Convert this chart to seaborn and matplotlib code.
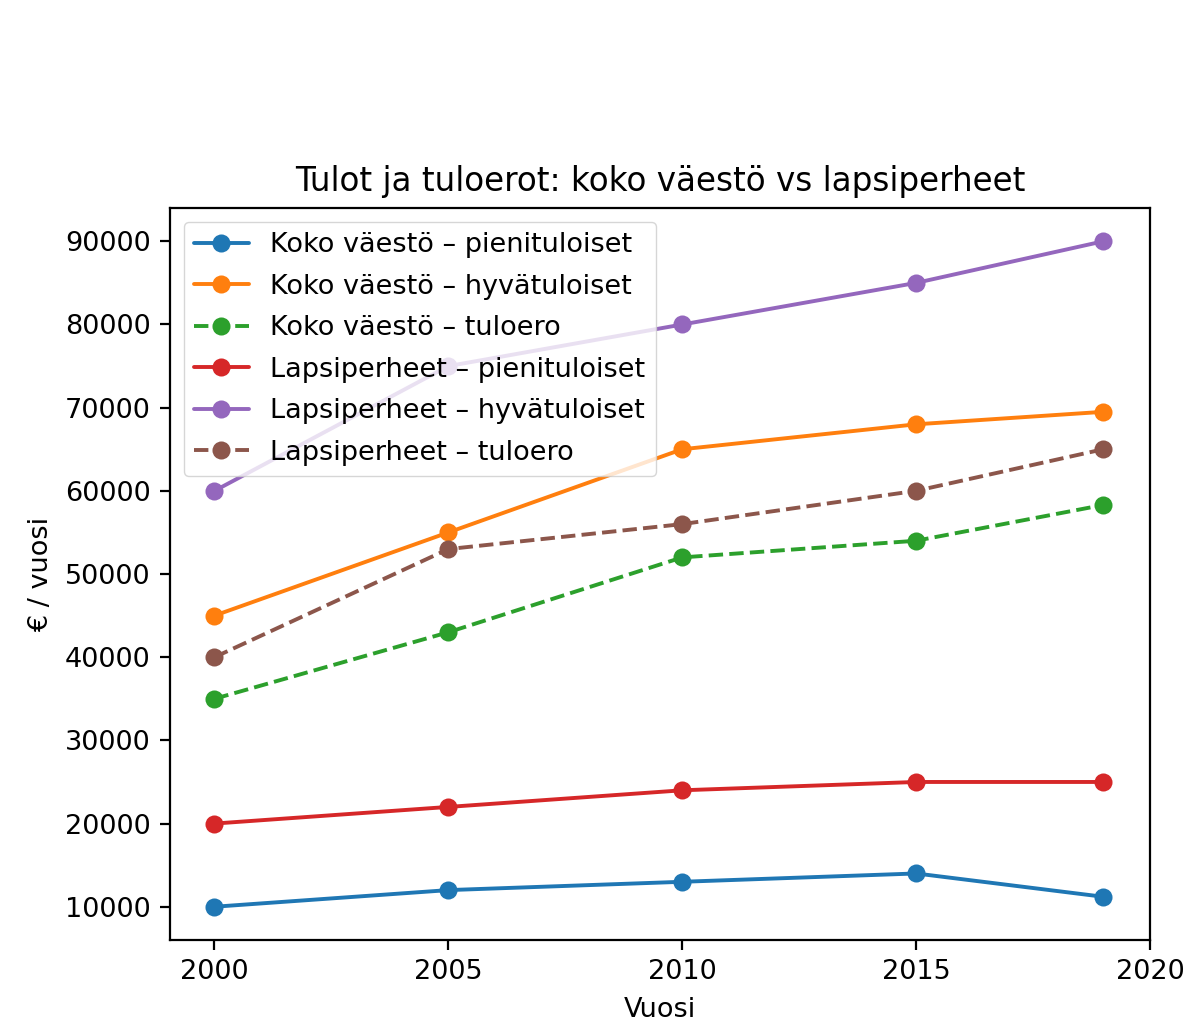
import matplotlib
matplotlib.use("Agg")
import matplotlib.pyplot as plt
import seaborn as sns
import pandas as pd

# Data
years = [2000, 2005, 2010, 2015, 2019]
koko_pieni = [10000, 12000, 13000, 14000, 11200]
koko_hyva = [45000, 55000, 65000, 68000, 69500]
koko_ero = [35000, 43000, 52000, 54000, 58300]
lapsi_pieni = [20000, 22000, 24000, 25000, 25000]
lapsi_hyva = [60000, 75000, 80000, 85000, 90000]
lapsi_ero = [40000, 53000, 56000, 60000, 65000]

labels = [
    "Koko väestö – pienituloiset",
    "Koko väestö – hyvätuloiset",
    "Koko väestö – tuloero",
    "Lapsiperheet – pienituloiset",
    "Lapsiperheet – hyvätuloiset",
    "Lapsiperheet – tuloero",
]
series = [koko_pieni, koko_hyva, koko_ero, lapsi_pieni, lapsi_hyva, lapsi_ero]
dashed = [False, False, True, False, False, True]


def setup_plot_style():
    """Plain matplotlib look, scaled up"""
    sns.set_style("ticks")
    plt.rcParams.update({
        "font.family": ["DejaVu Sans"],
        "font.size": 19.5,
        "axes.titlesize": 23.5,
        "axes.labelsize": 19.5,
        "xtick.labelsize": 19.5,
        "ytick.labelsize": 19.5,
        "legend.fontsize": 19.5,
        "axes.linewidth": 1.6,
        "xtick.major.width": 1.6,
        "ytick.major.width": 1.6,
        "xtick.major.size": 7,
        "ytick.major.size": 7,
        "xtick.major.pad": 7,
        "ytick.major.pad": 7,
        "axes.labelpad": 8,
        "axes.edgecolor": "black",
        "text.color": "black",
        "axes.labelcolor": "black",
        "xtick.color": "black",
        "ytick.color": "black",
    })


def create_plot():
    setup_plot_style()
    fig = plt.figure(figsize=(12, 10.34), dpi=100)
    ax = fig.add_axes([0.1417, 0.0909, 0.8166, 0.7079])

    palette = sns.color_palette("tab10", 6)
    for i, (lab, vals) in enumerate(zip(labels, series)):
        df = pd.DataFrame({"Vuosi": years, "arvo": vals})
        sns.lineplot(data=df, x="Vuosi", y="arvo", ax=ax, label=lab,
                     color=palette[i], marker="o", markersize=13,
                     markeredgecolor=palette[i], markeredgewidth=0,
                     linewidth=2.8, linestyle="--" if dashed[i] else "-")

    ax.set_title("Tulot ja tuloerot: koko väestö vs lapsiperheet", pad=12)
    ax.set_xlabel("Vuosi", fontsize=19.5)
    ax.set_ylabel("€ / vuosi", fontsize=19.5)
    ax.set_xticks([2000, 2005, 2010, 2015, 2020])
    ax.tick_params(labelsize=19.5)
    ax.legend(loc="upper left", framealpha=0.8, labelspacing=0.57)
    for s in ax.spines.values():
        s.set_visible(True)

    fig.savefig("out.png", dpi=100)
    plt.close(fig)


if __name__ == "__main__":
    create_plot()
